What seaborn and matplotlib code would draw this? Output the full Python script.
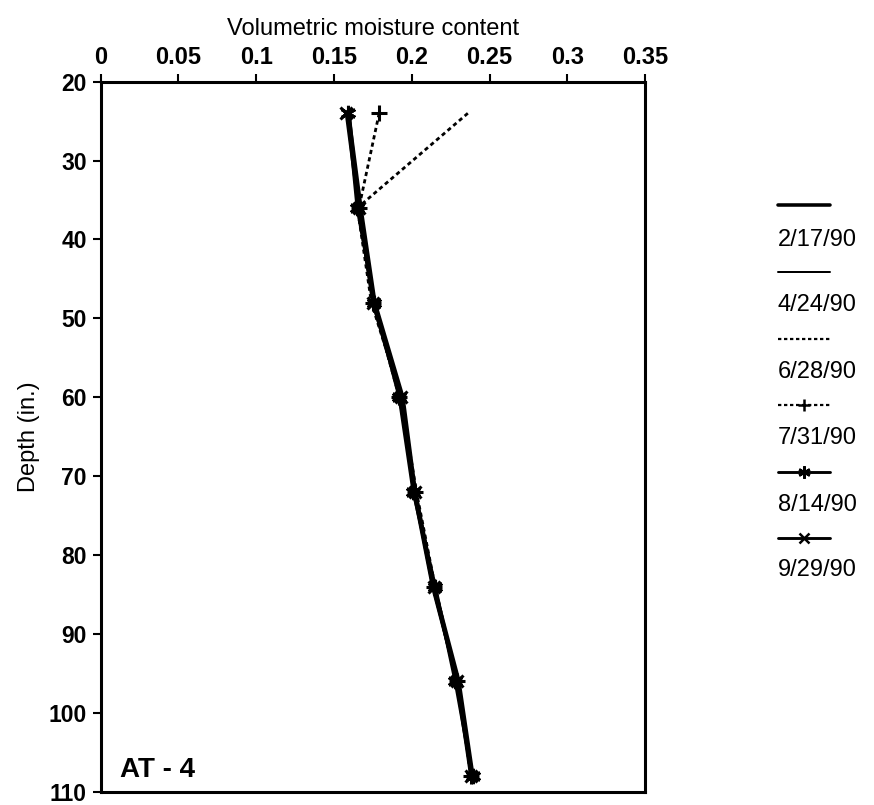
import numpy as np
import pandas as pd
import matplotlib
matplotlib.use("Agg")
import matplotlib.pyplot as plt
from matplotlib.lines import Line2D
import seaborn as sns

sns.set_theme(style="white")
plt.rcParams["font.family"] = ["Liberation Sans", "DejaVu Sans"]
plt.rcParams.update({"text.color": "black", "axes.labelcolor": "black",
                     "xtick.color": "black", "ytick.color": "black"})

# ---- data ----
depths = [24, 36, 48, 60, 72, 84, 96, 108]
dates = ["2/17/90", "4/24/90", "6/28/90", "7/31/90", "8/14/90", "9/29/90"]
m_0217 = [0.159, 0.167, 0.176, 0.194, 0.202, 0.214, 0.230, 0.239]
m_0424 = [0.160, 0.166, 0.175, 0.193, 0.201, 0.213, 0.229, 0.238]
m_0628 = [0.236, 0.165, 0.174, 0.193, 0.203, 0.215, 0.229, 0.239]
m_0731 = [0.179, 0.166, 0.175, 0.192, 0.202, 0.214, 0.229, 0.238]
m_0814 = [0.159, 0.165, 0.176, 0.192, 0.201, 0.215, 0.228, 0.239]
m_0929 = [0.158, 0.166, 0.175, 0.193, 0.202, 0.214, 0.229, 0.238]
xticks = [0, 0.05, 0.1, 0.15, 0.2, 0.25, 0.3, 0.35]
xticklabels = ["0", "0.05", "0.1", "0.15", "0.2", "0.25", "0.3", "0.35"]
yticks = [20, 30, 40, 50, 60, 70, 80, 90, 100, 110]

series = [m_0217, m_0424, m_0628, m_0731, m_0814, m_0929]
styles = [
    dict(linestyle="-", lw=3.2, marker=None, ms=0),
    dict(linestyle="-", lw=1.8, marker=None, ms=0),
    dict(linestyle=(0, (1.5, 1.2)), lw=2.0, marker=None, ms=0),
    dict(linestyle=(0, (1.5, 1.2)), lw=2.0, marker="+", ms=11),
    dict(linestyle="-", lw=2.6, marker=(6, 2, 0), ms=11),
    dict(linestyle="-", lw=2.6, marker="x", ms=9),
]

df = pd.concat(
    [pd.DataFrame({"date": d, "depth": depths, "moisture": v}) for d, v in zip(dates, series)],
    ignore_index=True,
)

fig = plt.figure(figsize=(8.74, 8.05), dpi=100)
ax = fig.add_axes([0.1152, 0.0165, 0.623, 0.882])

for d, st in zip(dates, styles):
    sub = df[df["date"] == d]
    sns.lineplot(
        data=sub, x="moisture", y="depth", sort=False, estimator=None,
        color="black", linestyle=st["linestyle"], linewidth=st["lw"],
        marker=st["marker"], markersize=st["ms"], markeredgewidth=2.2,
        markeredgecolor="black", ax=ax, legend=False,
    )

ax.set_xlim(0, 0.35)
ax.set_ylim(110, 20)
ax.xaxis.tick_top()
ax.xaxis.set_label_position("top")
ax.set_xticks(xticks)
ax.set_xticklabels(xticklabels)
ax.set_yticks(yticks)
ax.tick_params(axis="x", which="both", top=True, bottom=False, direction="out",
               length=6, width=1.5, color="black", labelcolor="black", labelsize=17, pad=3)
ax.tick_params(axis="y", which="both", left=True, right=False, direction="out",
               length=6, width=1.5, color="black", labelcolor="black", labelsize=16.5, pad=4)
for lab in ax.get_xticklabels() + ax.get_yticklabels():
    lab.set_fontweight("bold")
ax.set_xlabel("Volumetric moisture content", fontsize=17, labelpad=8, color="black")
ax.set_ylabel("Depth (in.)", fontsize=17, labelpad=6, color="black")
for sp in ax.spines.values():
    sp.set_color("black")
    sp.set_linewidth(2.2)
ax.spines["right"].set_visible(True)

ax.text(0.035, 0.012, "AT - 4", transform=ax.transAxes, fontsize=20,
        fontweight="bold", ha="left", va="bottom", color="black")

# legend: sample line above each label
x0, x1 = 778 / 874, 830 / 874
line_y = [205, 272, 339, 405, 472, 538]
text_y = [240, 305, 372, 438, 505, 570]
for d, st, ly, ty in zip(dates, styles, line_y, text_y):
    yy = 1 - ly / 805
    fig.add_artist(Line2D([x0, x1], [yy, yy], transform=fig.transFigure,
                          color="black", linestyle=st["linestyle"], linewidth=st["lw"] * 0.8))
    if st["marker"] is not None:
        fig.add_artist(Line2D([(x0 + x1) / 2], [yy], transform=fig.transFigure,
                              color="black", marker=st["marker"], markersize=st["ms"] * 0.8,
                              markeredgewidth=1.8, linestyle="none"))
    fig.text(x0, 1 - ty / 805, d, fontsize=17, ha="left", va="center", color="black")

fig.savefig("out.png", dpi=100)
